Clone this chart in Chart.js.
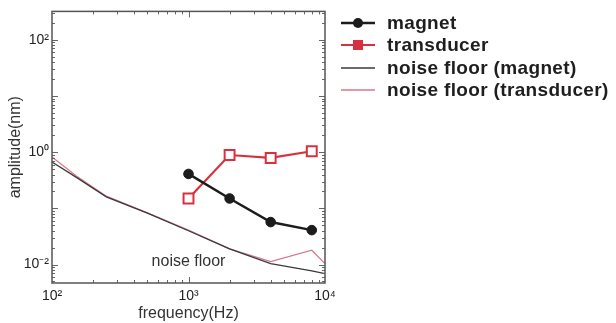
<!DOCTYPE html>
<html>
<head>
<meta charset="utf-8">
<script src="https://cdn.jsdelivr.net/npm/chart.js@4/dist/chart.umd.min.js"></script>
<style>
  html, body { margin: 0; padding: 0; background: #fff; }
  #wrap { position: relative; width: 616px; height: 323px; }
  #legend { position: absolute; left: 340px; top: 12px; font-family: 'Liberation Sans', Arial, sans-serif; font-weight: bold; font-size: 19px; letter-spacing: 0.35px; color: #1e1e1e; }
  .row { height: 22.3px; display: flex; align-items: center; white-space: nowrap; }
  .row svg { width: 36px; height: 20px; margin-right: 11px; flex: none; }
</style>
</head>
<body>
<div id="wrap">
  <canvas id="c" width="616" height="323"></canvas>
  <div id="legend"></div>
</div>
<script>
// ---- data ----
const frequencies = [1000, 2000, 4000, 8000];
const magnet = [0.41, 0.15, 0.057, 0.041];
const transducer = [0.15, 0.89, 0.79, 1.04];

const noiseFrequencies = [100, 150, 250, 500, 1000, 2000, 4000, 8000, 10000];
const noiseMagnet = [0.67, 0.36, 0.16, 0.082, 0.040, 0.019, 0.0104, 0.0077, 0.0069];
const noiseTransducer = [0.82, 0.38, 0.165, 0.083, 0.041, 0.019, 0.0113, 0.018, 0.0104];

const seriesNames = ['magnet', 'transducer', 'noise floor (magnet)', 'noise floor (transducer)'];

const xTickValues = [100, 1000, 10000];
const xTickLabels = ['10²', '10³', '10⁴'];
const yTickValues = [0.01, 1, 100];
const yTickLabels = ['10⁻²', '10⁰', '10²'];

const annotationText = 'noise floor';
const annotationAt = [1000, 0.0112];

// ---- helpers ----
function pairs(xs, ys) { return xs.map((x, i) => ({ x: x, y: ys[i] })); }
function labelFor(values, labels, v) {
  for (let i = 0; i < values.length; i++) {
    if (Math.abs(Math.log10(v) - Math.log10(values[i])) < 1e-6) return labels[i];
  }
  return '';
}

const colBlack = '#1c1c1c';
const colRed = '#d8303e';
const colNoiseBlack = '#3a3a3a';
const colNoiseRed = '#d9768a';

Chart.defaults.font.family = "'Liberation Sans', Arial, sans-serif";
Chart.defaults.color = '#222';

// inside ticks + frame + annotation text
const framePlugin = {
  id: 'frame',
  afterDatasetsDraw(chart) {
    const ctx = chart.ctx;
    const a = chart.chartArea;
    const xs = chart.scales.x, ys = chart.scales.y;
    ctx.save();
    ctx.strokeStyle = '#666';
    ctx.lineWidth = 1;
    function decadeValues(min, max) {
      const out = [];
      for (let e = Math.floor(Math.log10(min)); e <= Math.ceil(Math.log10(max)); e++) {
        for (let m = 1; m <= 9; m++) {
          const v = m * Math.pow(10, e);
          if (v > min * 1.0001 && v < max * 0.9999) out.push({ v: v, major: m === 1 });
        }
      }
      return out;
    }
    ctx.beginPath();
    decadeValues(xs.min, xs.max).forEach(t => {
      const px = Math.round(xs.getPixelForValue(t.v)) + 0.5;
      const len = t.major ? 6 : 3;
      ctx.moveTo(px, a.bottom); ctx.lineTo(px, a.bottom - len);
      ctx.moveTo(px, a.top); ctx.lineTo(px, a.top + len);
    });
    decadeValues(ys.min, ys.max).forEach(t => {
      const py = Math.round(ys.getPixelForValue(t.v)) + 0.5;
      const len = t.major ? 6 : 3;
      ctx.moveTo(a.left, py); ctx.lineTo(a.left + len, py);
      ctx.moveTo(a.right, py); ctx.lineTo(a.right - len, py);
    });
    ctx.stroke();
    ctx.lineWidth = 1.5;
    ctx.strokeStyle = '#555';
    ctx.strokeRect(a.left, a.top, a.right - a.left, a.bottom - a.top);
    // annotation text
    ctx.fillStyle = '#333';
    ctx.font = "16px 'Liberation Sans', Arial, sans-serif";
    ctx.textAlign = 'center';
    ctx.textBaseline = 'middle';
    ctx.fillText(annotationText, xs.getPixelForValue(annotationAt[0]), ys.getPixelForValue(annotationAt[1]));
    ctx.restore();
  }
};

new Chart(document.getElementById('c'), {
  type: 'line',
  data: {
    datasets: [
      { label: seriesNames[0], data: pairs(frequencies, magnet), borderColor: colBlack, backgroundColor: colBlack,
        borderWidth: 2.5, pointRadius: 4.8, pointBackgroundColor: colBlack, pointBorderColor: colBlack, pointBorderWidth: 1 },
      { label: seriesNames[1], data: pairs(frequencies, transducer), borderColor: colRed, backgroundColor: '#fff',
        borderWidth: 2.2, pointStyle: 'rect', pointRadius: 7, pointBackgroundColor: '#fff', pointBorderColor: colRed, pointBorderWidth: 2 },
      { label: seriesNames[2], data: pairs(noiseFrequencies, noiseMagnet), borderColor: colNoiseBlack,
        borderWidth: 1.3, pointRadius: 0 },
      { label: seriesNames[3], data: pairs(noiseFrequencies, noiseTransducer), borderColor: colNoiseRed,
        borderWidth: 1.2, pointRadius: 0 }
    ]
  },
  options: {
    responsive: false,
    animation: false,
    layout: { padding: { top: 7, right: 291, left: 0, bottom: 0 } },
    plugins: { legend: { display: false }, tooltip: { enabled: false } },
    elements: { line: { tension: 0 } },
    scales: {
      x: {
        type: 'logarithmic', min: 100, max: 10000,
        afterFit(s) { s.height = 40; },
        grid: { display: false, drawTicks: false },
        border: { display: false },
        ticks: { autoSkip: false, maxRotation: 0, padding: 5, font: { size: 14 }, color: '#222',
          callback: v => labelFor(xTickValues, xTickLabels, v) },
        title: { display: true, text: 'frequency(Hz)', font: { size: 16 }, color: '#333', padding: { top: 0, bottom: 0 } }
      },
      y: {
        type: 'logarithmic', min: 0.0047, max: 320,
        afterFit(s) { s.width = 52; },
        grid: { display: false, drawTicks: false },
        border: { display: false },
        ticks: { autoSkip: false, padding: 3, font: { size: 14 }, color: '#222',
          callback: v => labelFor(yTickValues, yTickLabels, v) },
        title: { display: true, text: 'amplitude(nm)', font: { size: 16 }, color: '#333', padding: { top: 6, bottom: 0 } }
      }
    }
  },
  plugins: [framePlugin]
});

// legend (HTML)
const legendSpecs = [
  { color: colBlack, width: 2.5, marker: 'circle' },
  { color: colRed, width: 2.2, marker: 'square' },
  { color: colNoiseBlack, width: 1.3, marker: null },
  { color: colNoiseRed, width: 1.3, marker: null }
];
const legendEl = document.getElementById('legend');
seriesNames.forEach((name, i) => {
  const s = legendSpecs[i];
  let mk = '';
  if (s.marker === 'circle') mk = `<circle cx="18" cy="10" r="5" fill="${s.color}"/>`;
  if (s.marker === 'square') mk = `<rect x="13" y="5" width="10" height="10" fill="${s.color}"/>`;
  const row = document.createElement('div');
  row.className = 'row';
  row.innerHTML = `<svg viewBox="0 0 36 20"><line x1="1" y1="10" x2="35" y2="10" stroke="${s.color}" stroke-width="${s.width}"/>${mk}</svg><span>${name}</span>`;
  legendEl.appendChild(row);
});
</script>
</body>
</html>
